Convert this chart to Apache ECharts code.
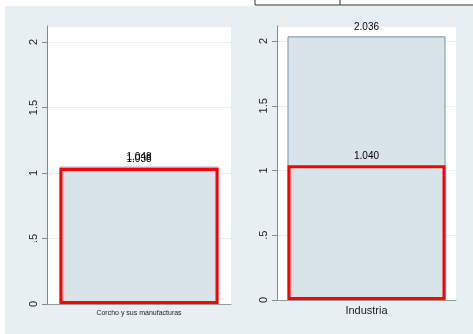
<!DOCTYPE html>
<html><head><meta charset="utf-8">
<script src="https://cdn.jsdelivr.net/npm/echarts@6/dist/echarts.min.js"></script>
<style>html,body{margin:0;padding:0;background:#fff}#c{width:473px;height:334px}</style>
</head><body><div id="c"></div>
<script>
const leftCategory = ['Corcho y sus manufacturas'];
const rightCategory = ['Industria'];
const leftBase = [1.048];
const leftHighlight = [1.038];
const rightBase = [2.036];
const rightHighlight = [1.040];
const yTicks = [0, 0.5, 1, 1.5, 2];

const chart = echarts.init(document.getElementById('c'));
const fill = '#d9e4ea';
const yLab = v => (yTicks.includes(v) ? (v === 0.5 ? '.5' : String(v)) : '');
function yAxis(idx, max) {
  return {
    type: 'value', gridIndex: idx, min: 0, max: max, interval: 0.5,
    axisLine: {show: true, lineStyle: {color: '#888', width: 1}},
    axisTick: {show: true, length: 5, lineStyle: {color: '#888'}},
    axisLabel: {show: true, rotate: 90, formatter: yLab, color: '#222', fontSize: 11,
      fontFamily: 'Liberation Sans, Arial', margin: 8, showMaxLabel: false},
    splitLine: {show: true, lineStyle: {color: '#e6eef0', width: 1}}
  };
}
function xAxis(idx, data, fs) {
  return {
    type: 'category', gridIndex: idx, data: data,
    axisLine: {show: true, lineStyle: {color: '#999', width: 1}},
    axisTick: {show: false},
    axisLabel: {color: '#222', fontSize: fs, fontFamily: 'Liberation Sans, Arial', margin: fs > 9 ? 5 : 6}
  };
}
const lbl = {show: true, position: 'top', distance: 4, color: '#000', fontSize: 10,
  fontFamily: 'Liberation Sans, Arial', formatter: p => p.value.toFixed(3)};
chart.setOption({
  animation: false,
  backgroundColor: '#fff',
  graphic: [
    {type: 'rect', z: -10, shape: {x: 5, y: 6, width: 468, height: 328}, style: {fill: '#e8eff2'}},
    {type: 'rect', shape: {x: 255, y: -6, width: 230, height: 11}, style: {fill: '#fff', stroke: '#333', lineWidth: 1}},
    {type: 'line', shape: {x1: 340, y1: -6, x2: 340, y2: 5}, style: {stroke: '#333', lineWidth: 1}}
  ],
  grid: [
    {left: 47, right: 242, top: 26, bottom: 30, show: true, backgroundColor: '#fff', borderWidth: 0},
    {left: 277, right: 17, top: 26, bottom: 34, show: true, backgroundColor: '#fff', borderWidth: 0}
  ],
  xAxis: [xAxis(0, leftCategory, 7), xAxis(1, rightCategory, 11)],
  yAxis: [yAxis(0, 2.122), yAxis(1, 2.116)],
  series: [
    {type: 'bar', xAxisIndex: 0, yAxisIndex: 0, data: leftBase, barWidth: 159, barGap: '-100%',
      itemStyle: {color: fill, borderColor: '#7891ab', borderWidth: 1}, label: lbl},
    {type: 'bar', xAxisIndex: 0, yAxisIndex: 0, data: leftHighlight, barWidth: 159, barGap: '-100%',
      itemStyle: {color: fill, borderColor: '#ff0000', borderWidth: 3}, label: lbl},
    {type: 'bar', xAxisIndex: 1, yAxisIndex: 1, data: rightBase, barWidth: 158, barGap: '-100%',
      itemStyle: {color: fill, borderColor: '#7891ab', borderWidth: 1}, label: lbl},
    {type: 'bar', xAxisIndex: 1, yAxisIndex: 1, data: rightHighlight, barWidth: 158, barGap: '-100%',
      itemStyle: {color: fill, borderColor: '#ff0000', borderWidth: 3}, label: lbl}
  ]
});
</script></body></html>
